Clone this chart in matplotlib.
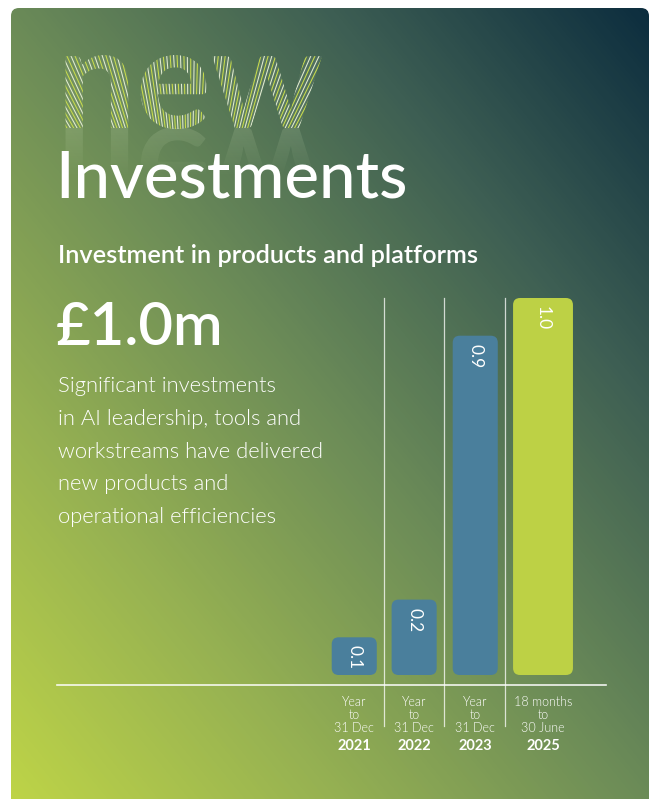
import matplotlib
matplotlib.use('Agg')
import matplotlib.pyplot as plt
import numpy as np
from matplotlib.patches import FancyBboxPatch, PathPatch
from matplotlib.textpath import TextPath
from matplotlib.font_manager import FontProperties
from matplotlib.collections import LineCollection
from matplotlib.path import Path
from matplotlib.colors import LinearSegmentedColormap

plt.rcParams['font.family'] = ['Lato', 'DejaVu Sans']

# data
periods = ["Year\nto\n31 Dec", "Year\nto\n31 Dec", "Year\nto\n31 Dec", "18 months\nto\n30 June"]
years = ["2021", "2022", "2023", "2025"]
values = [0.1, 0.2, 0.9, 1.0]
bar_colors = ["#4a7f9c", "#4a7f9c", "#4a7f9c", "#bdd145"]
body_lines = [
    "Significant investments",
    "in AI leadership, tools and",
    "workstreams have delivered",
    "new products and",
    "operational efficiencies",
]

W, H = 651, 799
fig = plt.figure(figsize=(W / 100, H / 100), dpi=100)
fig.patch.set_facecolor("white")

# full-page axes in pixel units for the panel, headline text and rules
bg = fig.add_axes([0, 0, 1, 1])
bg.set_xlim(0, W)
bg.set_ylim(H, 0)
bg.axis("off")

# diagonal gradient panel
grad = LinearSegmentedColormap.from_list(
    "panel",
    [(0.0, "#bfd547"), (0.25, "#97b252"), (0.5, "#6b8b58"),
     (0.75, "#3d5e53"), (1.0, "#0b2c3e")])
u = np.linspace(0, 1, W)[None, :]
v = np.linspace(1, 0, H)[:, None]
t = np.clip((u + v) / 2, 0, 1)
img = bg.imshow(grad(t), extent=(0, W, H, 0), aspect="auto", zorder=0)
panel = FancyBboxPatch((11, 8), 638, H + 20, boxstyle="round,pad=0,rounding_size=8",
                       facecolor="none", edgecolor="none", transform=bg.transData)
bg.add_patch(panel)
img.set_clip_path(panel)

# "new" word with fanned stripes and a fading reflection
fp = FontProperties(family="Lato", weight="bold")
tp = TextPath((0, 0), "new", size=100, prop=fp)
verts = tp.vertices
xmin, xmax = verts[:, 0].min(), verts[:, 0].max()
ymin, ymax = 0, verts[:, 1].max()
x0, x1, top, base = 57, 322, 55, 128
sx = (x1 - x0) / (xmax - xmin)
sy = (base - top) / (ymax - ymin)

word = Path(np.column_stack([x0 + (verts[:, 0] - xmin) * sx,
                             base - (verts[:, 1] - ymin) * sy]), tp.codes)
mirror = Path(np.column_stack([x0 + (verts[:, 0] - xmin) * sx,
                               base + (verts[:, 1] - ymin) * sy]), tp.codes)

word_fill = PathPatch(word, facecolor=(1, 1, 1, 0.06), edgecolor="none", zorder=2)
bg.add_patch(word_fill)

cx, cy = 190, 330
angles = np.arange(np.deg2rad(-150), np.deg2rad(-30), 0.0125)
segs = [[(cx, cy), (cx + 400 * np.cos(a), cy + 400 * np.sin(a))] for a in angles]
cols = ["#c9dd4b" if i % 2 == 0 else "#e3ecd2" for i in range(len(segs))]
stripes = LineCollection(segs, colors=cols, linewidths=0.75, zorder=3)
bg.add_collection(stripes)
clipw = PathPatch(word, facecolor="none", edgecolor="none")
bg.add_patch(clipw)
stripes.set_clip_path(clipw)

fade = np.zeros((100, 2, 4))
fade[..., :3] = (0.85, 0.92, 0.75)
fade[..., 3] = np.linspace(0.16, 0.0, 100)[:, None] ** 1.0
refl = bg.imshow(fade, extent=(x0, x1, base + 50, base), aspect="auto", zorder=2)
clipm = PathPatch(mirror, facecolor="none", edgecolor="none")
bg.add_patch(clipm)
refl.set_clip_path(clipm)

# headline text
white = "white"
bg.text(55, 198, "Investments", fontsize=47, color=white, fontweight="medium",
        va="baseline", ha="left", zorder=5)
bg.text(58, 263, "Investment in products and platforms", fontsize=18.3, color=white,
        fontweight="semibold", va="baseline", ha="left", zorder=5)
bg.text(56, 345, "£1.0m", fontsize=43, color=white, fontweight="semibold",
        va="baseline", ha="left", zorder=5)
for i, line in enumerate(body_lines):
    bg.text(58, 392 + i * 32.8, line, fontsize=15.8, color=white, fontweight=300,
            va="baseline", ha="left", zorder=5)

# column dividers and baseline rule
for xd in (384, 444, 505):
    bg.plot([xd, xd], [298, 726], color="white", lw=0.9, alpha=0.75, zorder=4)
bg.plot([57, 606], [685, 685], color="white", lw=1.2, alpha=0.9, zorder=4)

# bar chart axes
px_left, px_right, px_top, px_base = 324, 584, 298, 675
ax = fig.add_axes([px_left / W, 1 - px_base / H, (px_right - px_left) / W,
                   (px_base - px_top) / H])
ax.set_xlim(0, (px_right - px_left) / 60.5)
ax.set_ylim(0, 1.0)
ax.axis("off")
ax.patch.set_alpha(0)

centers = [0.5, 1.49, 2.5, 3.62]
widths = [0.745, 0.745, 0.745, 0.99]
bars = ax.bar(centers, values, width=widths, color=bar_colors)
r_px = 7
for rect, col in zip(bars, bar_colors):
    rect.set_visible(False)
    xr, yr = rect.get_xy()
    rw, rh = rect.get_width(), rect.get_height()
    rx = r_px / 60.5
    ry = r_px / (px_base - px_top)
    fb = FancyBboxPatch((xr, yr), rw, rh,
                        boxstyle=f"round,pad=0,rounding_size={rx}",
                        mutation_aspect=ry / rx, facecolor=col, edgecolor="none",
                        clip_on=False)
    ax.add_patch(fb)

for c, val in zip(centers, values):
    ax.annotate(f"{val:.1f}", (c, val), xytext=(0, -8), textcoords="offset pixels",
                rotation=-90, ha="center", va="top", fontsize=12.5, color=white,
                annotation_clip=False)

for c, per, yr in zip(centers, periods, years):
    ax.annotate(per, (c, 0), xytext=(0, -21), textcoords="offset pixels",
                ha="center", va="top", fontsize=9, color=white, fontweight=300,
                linespacing=1.1, annotation_clip=False)
    ax.annotate(yr, (c, 0), xytext=(0, -64), textcoords="offset pixels",
                ha="center", va="top", fontsize=10.5, color=white, fontweight="bold",
                annotation_clip=False)

fig.savefig("out.png", dpi=100)
